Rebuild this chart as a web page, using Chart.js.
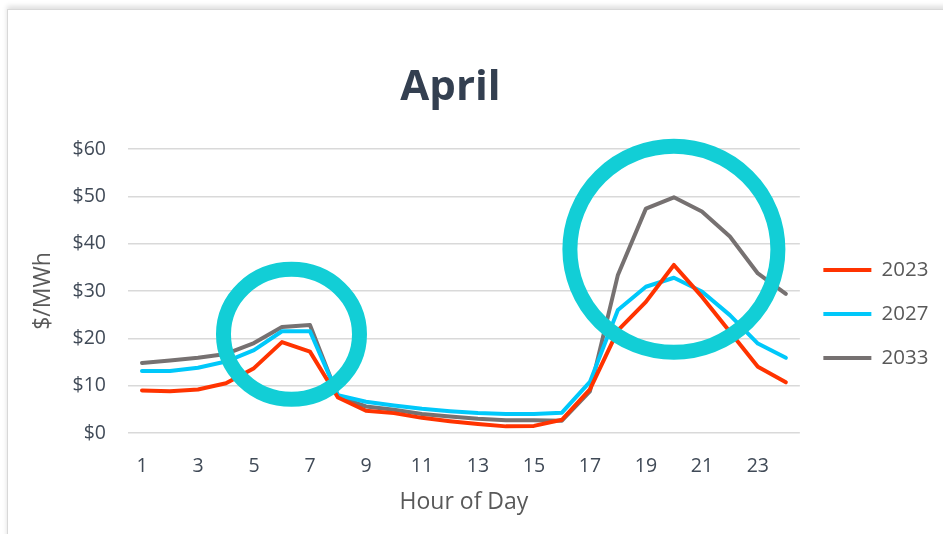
<!DOCTYPE html>
<html>
<head>
<meta charset="utf-8">
<script src="https://cdn.jsdelivr.net/npm/chart.js@4/dist/chart.umd.min.js"></script>
<style>
  html, body { margin: 0; padding: 0; background: #ffffff; overflow: hidden; }
  body { width: 943px; height: 534px; position: relative; }
  .card {
    position: absolute; left: 7px; top: 9px; width: 960px; height: 560px;
    background: #ffffff;
    border-left: 1.5px solid #d8d8d8; border-top: 1px solid #d8d8d8;
    box-shadow: 0 -3px 5px rgba(0,0,0,0.13);
  }
  #chart { position: absolute; left: 0; top: 0; z-index: 2; }
</style>
</head>
<body>
<div class="card"></div>
<canvas id="chart" width="943" height="534"></canvas>
<script>
// ---- data ----
const hours = [1,2,3,4,5,6,7,8,9,10,11,12,13,14,15,16,17,18,19,20,21,22,23,24];
const shownHourLabels = [1,3,5,7,9,11,13,15,17,19,21,23];
const yTickValues = [0,10,20,30,40,50,60];
const seriesNames = ['2023','2027','2033'];
const price2023 = [9.0, 8.8, 9.2, 10.5, 13.7, 19.2, 17.2, 7.5, 4.7, 4.2, 3.2, 2.5, 1.9, 1.4, 1.5, 2.8, 9.2, 21.7, 27.7, 35.5, 28.8, 21.4, 14.0, 10.7];
const price2027 = [13.1, 13.1, 13.8, 15.1, 17.5, 21.5, 21.5, 8.0, 6.6, 5.8, 5.1, 4.6, 4.2, 4.0, 4.0, 4.3, 10.8, 26.0, 30.9, 32.8, 29.9, 24.9, 18.9, 15.9];
const price2033 = [14.8, 15.3, 15.9, 16.7, 19.0, 22.4, 22.8, 7.7, 5.6, 4.9, 4.0, 3.5, 3.0, 2.7, 2.7, 2.6, 8.8, 33.4, 47.4, 49.8, 46.8, 41.5, 33.7, 29.4];

const colors = ['#ff3300', '#00c8fa', '#767171'];
const FONT = "'Open Sans', 'DejaVu Sans', sans-serif";

// highlight rings (annotation), placed in data coordinates
const rings = [
  { xIndex: 5.34, y: 20.85, rx: 68, ry: 65 },
  { xIndex: 19.0, y: 38.8, rx: 104, ry: 103 }
];

const ringPlugin = {
  id: 'rings',
  afterDatasetsDraw(chart) {
    const { ctx, scales: { x, y } } = chart;
    ctx.save();
    ctx.strokeStyle = '#12ced6';
    ctx.lineWidth = 15;
    rings.forEach(r => {
      const cx = x.getPixelForValue(r.xIndex);
      const cy = y.getPixelForValue(r.y);
      ctx.beginPath();
      ctx.ellipse(cx, cy, r.rx, r.ry, 0, 0, Math.PI * 2);
      ctx.stroke();
    });
    ctx.restore();
  }
};

const titleShift = {
  id: 'titleShift',
  afterLayout(chart) {
    if (chart.titleBlock) { chart.titleBlock.left = 0; chart.titleBlock.right = 901; }
  }
};

const series = [price2023, price2027, price2033];
new Chart(document.getElementById('chart'), {
  type: 'line',
  data: {
    labels: hours.map(String),
    datasets: series.map((d, i) => ({
      label: seriesNames[i],
      data: d,
      borderColor: colors[i],
      backgroundColor: colors[i],
      borderWidth: 4,
      pointRadius: 0,
      pointHoverRadius: 0,
      tension: 0,
      borderCapStyle: 'round',
      borderJoinStyle: 'round',
      fill: false
    }))
  },
  options: {
    responsive: false,
    animation: false,
    devicePixelRatio: 1,
    layout: { padding: { left: 0, right: 4.5, top: 0, bottom: 0 } },
    plugins: {
      tooltip: { enabled: false },
      title: {
        display: true,
        text: 'April',
        color: '#333f50',
        font: { family: FONT, size: 42, weight: '700' },
        padding: { top: 62.8, bottom: 35.8 }
      },
      legend: {
        position: 'right',
        fullSize: false,
        align: 'center',
        title: { display: true, text: '', font: { size: 12 }, padding: { top: 0, bottom: 31.6 } },
        labels: {
          usePointStyle: true,
          pointStyle: 'line',
          pointStyleWidth: 48,
          padding: 23.5,
          color: '#595959',
          font: { family: FONT, size: 20.5 }
        }
      }
    },
    scales: {
      x: {
        type: 'category',
        offset: true,
        grid: { display: false, drawTicks: false },
        border: { display: false },
        ticks: {
          autoSkip: false,
          maxRotation: 0,
          padding: 22,
          color: '#404a57',
          font: { family: FONT, size: 19.5 },
          callback: function(v, i) { return shownHourLabels.includes(hours[i]) ? String(hours[i]) : ''; }
        },
        title: {
          display: true,
          text: 'Hour of Day',
          color: '#595959',
          font: { family: FONT, size: 23 },
          padding: { top: 0, bottom: 18.2 }
        },
        afterFit(s) { s.height = 101; }
      },
      y: {
        min: 0,
        max: 60,
        afterBuildTicks(s) { s.ticks = yTickValues.map(v => ({ value: v })); },
        grid: { color: '#d9d9d9', lineWidth: 1.5, drawTicks: false },
        border: { display: false },
        ticks: {
          padding: 22,
          color: '#404a57',
          font: { family: FONT, size: 19.5 },
          callback: v => '$' + v
        },
        title: {
          display: true,
          text: '$/MWh',
          color: '#595959',
          font: { family: FONT, size: 23 },
          padding: { top: 29.2, bottom: 0 }
        },
        afterFit(s) { s.width = 128; }
      }
    }
  },
  plugins: [ringPlugin, titleShift]
});
</script>
</body>
</html>
